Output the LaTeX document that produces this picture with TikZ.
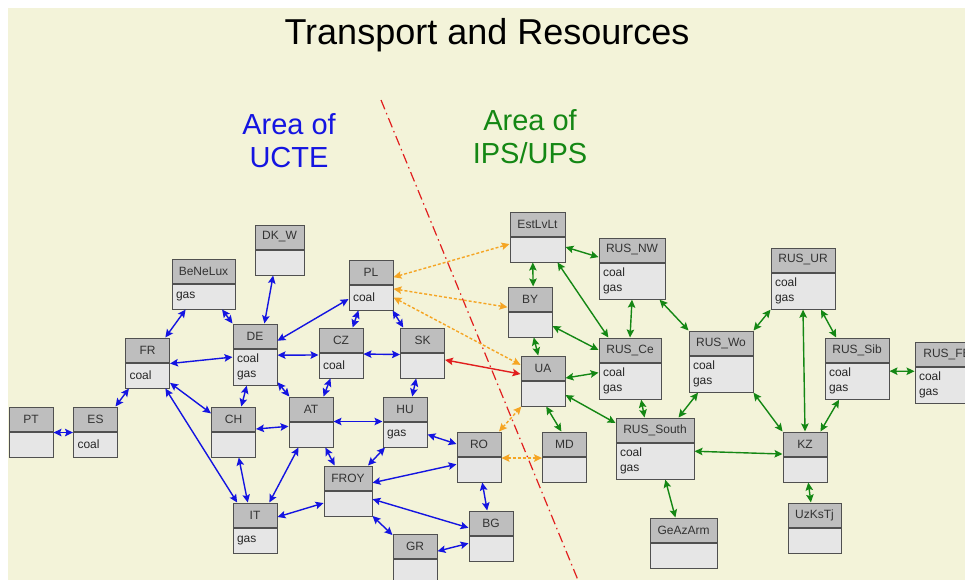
\documentclass[tikz,border=0pt]{standalone}
\usepackage{fontspec}
\setmainfont{Liberation Sans}
\usepackage{tikz}
\usetikzlibrary{arrows.meta}

\definecolor{cream}{RGB}{243,243,217}
\definecolor{headgray}{RGB}{190,190,190}
\definecolor{bodygray}{RGB}{230,230,230}
\definecolor{boxline}{RGB}{80,80,80}
\definecolor{uctecol}{RGB}{20,20,225}
\definecolor{upscol}{RGB}{20,135,20}
\definecolor{dotcol}{RGB}{245,165,35}
\definecolor{cutcol}{RGB}{225,30,30}

\begin{document}
\begin{tikzpicture}[x=1pt,y=-1pt,
  >={Stealth[length=8pt,width=7.5pt,inset=1.5pt]},
  head/.style={draw=boxline, fill=headgray, line width=1pt, minimum width=#1,
    minimum height=24pt, inner sep=0pt, text=black!80,
    font=\fontsize{12}{15}\selectfont},
  body/.style={draw=boxline, fill=bodygray, line width=1pt, anchor=north,
    text width=#1-8pt, inner xsep=4pt, inner ysep=5pt, minimum height=25pt,
    align=left, text=black!85, font=\fontsize{12}{15}\selectfont},
  ucte/.style={<->, uctecol, line width=1.4pt},
  ups/.style={<->, upscol, line width=1.4pt},
  link/.style={<->, dotcol, line width=1.4pt, dash pattern=on 3pt off 2pt},
  tie/.style={<->, cutcol, line width=1.4pt}]
\useasboundingbox (0,0) rectangle (965,580);
\clip (0,0) rectangle (965,580);
\fill[white] (-5,-5) rectangle (975,590);
\fill[cream] (8,8) rectangle (975,590);

\node[font=\fontsize{36}{40}\selectfont] (title) at (487,35) {Transport and Resources};
\node[uctecol, align=center, font=\fontsize{29}{33}\selectfont] (areaU) at (289,141) {Area of\\UCTE};
\node[upscol, align=center, font=\fontsize{29}{33}\selectfont] (areaI) at (530,137) {Area of\\IPS/UPS};

% border between the two areas
\coordinate (cutN) at (381,100);
\coordinate (cutS) at (580,585);
\draw[cutcol, line width=1.2pt, dash pattern=on 10pt off 4pt on 1.5pt off 4pt] (cutN) -- (cutS);

% UCTE regions
\node[head=44pt] (PT) at (31,419) {PT};
\node[body=44pt] (PTb) at (PT.south) {};
\node[head=44pt] (ES) at (95.5,419) {ES};
\node[body=44pt] (ESb) at (ES.south) {coal};
\node[head=44pt] (FR) at (147.5,350) {FR};
\node[body=44pt] (FRb) at (FR.south) {coal};
\node[head=63pt] (BeNeLux) at (203.5,271) {BeNeLux};
\node[body=63pt] (BeNeLuxb) at (BeNeLux.south) {gas};
\node[head=49pt] (DKW) at (279.5,237) {DK\_W};
\node[body=49pt] (DKWb) at (DKW.south) {};
\node[head=44pt] (DE) at (255,336) {DE};
\node[body=44pt] (DEb) at (DE.south) {coal\\gas};
\node[head=44pt] (CH) at (233.5,419) {CH};
\node[body=44pt] (CHb) at (CH.south) {};
\node[head=44pt] (AT) at (311,409) {AT};
\node[body=44pt] (ATb) at (AT.south) {};
\node[head=44pt] (IT) at (255,515) {IT};
\node[body=44pt] (ITb) at (IT.south) {gas};
\node[head=44pt] (PL) at (371,272) {PL};
\node[body=44pt] (PLb) at (PL.south) {coal};
\node[head=44pt] (CZ) at (341,340) {CZ};
\node[body=44pt] (CZb) at (CZ.south) {coal};
\node[head=44pt] (SK) at (422.5,340) {SK};
\node[body=44pt] (SKb) at (SK.south) {};
\node[head=44pt] (HU) at (405,409) {HU};
\node[body=44pt] (HUb) at (HU.south) {gas};
\node[head=48pt] (FROY) at (348,478) {FROY};
\node[body=48pt] (FROYb) at (FROY.south) {};
\node[head=44pt] (RO) at (479,444) {RO};
\node[body=44pt] (ROb) at (RO.south) {};
\node[head=44pt] (BG) at (491,523) {BG};
\node[body=44pt] (BGb) at (BG.south) {};
\node[head=44pt] (GR) at (415,546) {GR};
\node[body=44pt] (GRb) at (GR.south) {};

% IPS/UPS regions
\node[head=55pt] (EstLvLt) at (537.5,224) {EstLvLt};
\node[body=55pt] (EstLvLtb) at (EstLvLt.south) {};
\node[head=44pt] (BY) at (530,299) {BY};
\node[body=44pt] (BYb) at (BY.south) {};
\node[head=44pt] (UA) at (543,368) {UA};
\node[body=44pt] (UAb) at (UA.south) {};
\node[head=44pt] (MD) at (564.5,444) {MD};
\node[body=44pt] (MDb) at (MD.south) {};
\node[head=66pt] (RUSNW) at (632,250) {RUS\_NW};
\node[body=66pt] (RUSNWb) at (RUSNW.south) {coal\\gas};
\node[head=62pt] (RUSCe) at (630,350) {RUS\_Ce};
\node[body=62pt] (RUSCeb) at (RUSCe.south) {coal\\gas};
\node[head=64pt] (RUSWo) at (721,343) {RUS\_Wo};
\node[body=64pt] (RUSWob) at (RUSWo.south) {coal\\gas};
\node[head=78pt] (RUSSouth) at (655,430) {RUS\_South};
\node[body=78pt] (RUSSouthb) at (RUSSouth.south) {coal\\gas};
\node[head=67pt] (GeAzArm) at (683.5,530) {GeAzArm};
\node[body=67pt] (GeAzArmb) at (GeAzArm.south) {};
\node[head=64pt] (RUSUR) at (803,260) {RUS\_UR};
\node[body=64pt] (RUSURb) at (RUSUR.south) {coal\\gas};
\node[head=64pt] (RUSSib) at (857,350) {RUS\_Sib};
\node[body=64pt] (RUSSibb) at (RUSSib.south) {coal\\gas};
\node[head=64pt] (RUSFE) at (947,354) {RUS\_FE};
\node[body=64pt] (RUSFEb) at (RUSFE.south) {coal\\gas};
\node[head=44pt] (KZ) at (805,444) {KZ};
\node[body=44pt] (KZb) at (KZ.south) {};
\node[head=53pt] (UzKsTj) at (814.5,515) {UzKsTj};
\node[body=53pt] (UzKsTjb) at (UzKsTj.south) {};

% links inside UCTE
\draw[ucte] (PTb.28) -- (ESb.152);
\draw[ucte] (ES.32) -- (FRb.215);
\draw[ucte] (FR.35) -- (BeNeLuxb.216);
\draw[ucte] (BeNeLuxb.-35) -- (DE.north west);
\draw[ucte] (FRb.28) -- (DEb.156);
\draw[ucte] (FRb.-18) -- (CH.166);
\draw[ucte] (FRb.-36) -- (IT.145);
\draw[ucte] (DE.53) -- (DKWb.244);
\draw[ucte] (DE.-12) -- (PLb.184);
\draw[ucte] (DEb.28) -- (CZb.155);
\draw[ucte] (DEb.246) -- (CH.58);
\draw[ucte] (DEb.-34) -- (AT.150);
\draw[ucte] (CH.-24) -- (ATb.160);
\draw[ucte] (CHb.-68) -- (IT.120);
\draw[ucte] (IT.41) -- (ATb.226);
\draw[ucte] (IT.-5) -- (FROYb.179);
\draw[ucte] (CZ.47) -- (PLb.226);
\draw[ucte] (CZb.27) -- (SKb.154);
\draw[ucte] (CZb.231) -- (AT.45);
\draw[ucte] (PLb.-31) -- (SK.147);
\draw[ucte] (SKb.244) -- (HU.60);
\draw[ucte] (ATb.north east) -- (HUb.north west);
\draw[ucte] (ATb.-42) -- (FROY.137);
\draw[ucte] (HUb.213) -- (FROY.32);
\draw[ucte] (HUb.east) -- (RO.west);
\draw[ucte] (FROY.-11) -- (ROb.167);
\draw[ucte] (FROYb.10) -- (BG.192);
\draw[ucte] (FROYb.-27) -- (GR.154);
\draw[ucte] (GR.-13) -- (BGb.167);
\draw[ucte] (ROb.-76) -- (BG.107);

% links across the border
\draw[link] (PL.-13) -- (EstLvLtb.169);
\draw[link] (PLb.21) -- (BY.200);
\draw[link] (PLb.east) -- (UA.172);
\draw[link] (RO.32) -- (UAb.211);
\draw[link] (ROb.27) -- (MDb.153);
\draw[tie] (SKb.14) -- (UA.195);

% links inside IPS/UPS
\draw[ups] (EstLvLtb.250) -- (BY.76);
\draw[ups] (EstLvLtb.5) -- (RUSNW.192);
\draw[ups] (EstLvLtb.-33) -- (RUSCe.150);
\draw[ups] (BYb.-74) -- (UA.111);
\draw[ups] (BYb.-4) -- (RUSCe.west);
\draw[ups] (UA.-24) -- (RUSCeb.165);
\draw[ups] (UAb.-4) -- (RUSSouth.170);
\draw[ups] (UAb.-76) -- (MD.104);
\draw[ups] (RUSNWb.south) -- (RUSCe.north);
\draw[ups] (RUSNWb.-34) -- (RUSWo.north west);
\draw[ups] (RUSCeb.-59) -- (RUSSouth.130);
\draw[ups] (RUSWob.219) -- (RUSSouth.28);
\draw[ups] (RUSWo.north east) -- (RUSURb.south west);
\draw[ups] (RUSWob.south east) -- (KZ.north west);
\draw[ups] (RUSSouthb.14) -- (KZ.204);
\draw[ups] (RUSSouthb.-61) -- (GeAzArm.123);
\draw[ups] (RUSURb.-46) -- (RUSSib.149);
\draw[ups] (RUSURb.south) -- (KZ.north);
\draw[ups] (RUSSibb.226) -- (KZ.39);
\draw[ups] (RUSSibb.17) -- (RUSFEb.157);
\draw[ups] (KZb.-76) -- (UzKsTj.106);
\end{tikzpicture}
\end{document}
